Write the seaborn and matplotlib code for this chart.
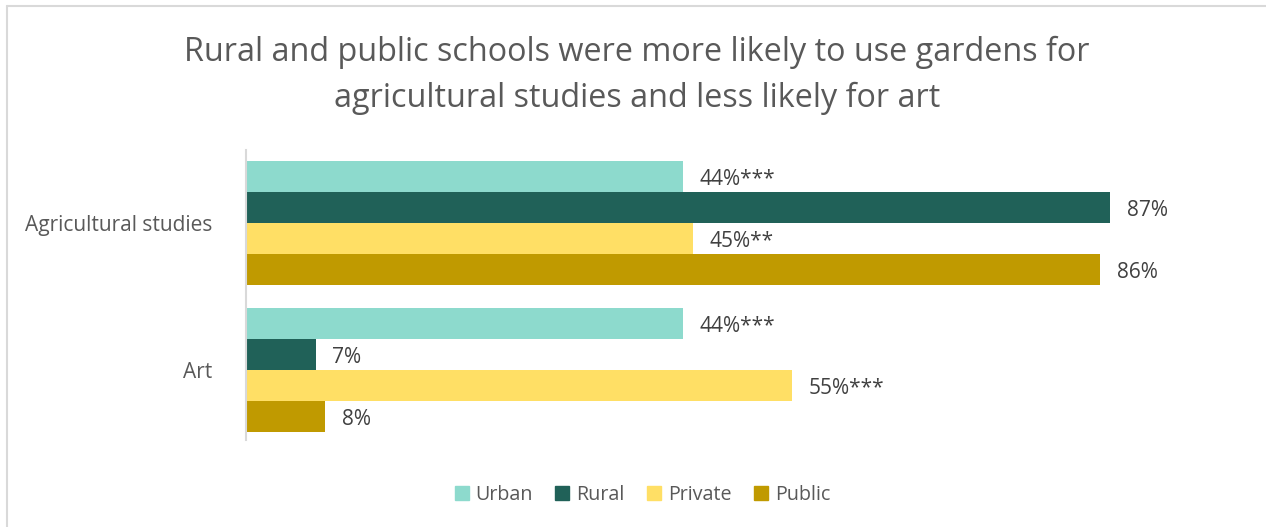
import matplotlib
matplotlib.use("Agg")
import matplotlib.pyplot as plt
import seaborn as sns
import pandas as pd
from matplotlib.lines import Line2D

categories = ["Agricultural studies", "Art"]
groups = ["Urban", "Rural", "Private", "Public"]
urban = [44, 44]
rural = [87, 7]
private = [45, 55]
public = [86, 8]
labels_urban = ["44%***", "44%***"]
labels_rural = ["87%", "7%"]
labels_private = ["45%**", "55%***"]
labels_public = ["86%", "8%"]

title = "Rural and public schools were more likely to use gardens for\nagricultural studies and less likely for art"
colors = ["#8DDACD", "#206158", "#FFDF65", "#C09A00"]

rows = []
vals = [urban, rural, private, public]
labs = [labels_urban, labels_rural, labels_private, labels_public]
for g, v, l in zip(groups, vals, labs):
    for c, x, t in zip(categories, v, l):
        rows.append({"Category": c, "Group": g, "Value": x, "Label": t})
df = pd.DataFrame(rows)

sns.set_theme(style="white")
plt.rcParams['font.family'] = ['Open Sans', 'DejaVu Sans']

fig = plt.figure(figsize=(12.66, 5.27), dpi=100)
ax = fig.add_axes([246/1266, 1-440/527, (1239-246)/1266, (440-150)/527])

sns.barplot(data=df, y="Category", x="Value", hue="Group", order=categories,
            hue_order=groups, palette=colors, orient="h", width=0.846,
            ax=ax, legend=False, saturation=1, linewidth=0)

ax.set_xlim(0, 100)
ax.set_ylim(1.48, -0.5)
ax.set_xticks([])
ax.set_xlabel("")
ax.set_ylabel("")
for s in ["top", "right", "bottom"]:
    ax.spines[s].set_visible(False)
ax.spines["left"].set_color("#D9D9D9")
ax.spines["left"].set_linewidth(1.5)
ax.tick_params(axis="y", length=0, pad=24, labelsize=15, labelcolor="#595959")

for cont, g in zip(ax.containers, groups):
    sub = df[df["Group"] == g].set_index("Category").loc[categories]
    texts = ax.bar_label(cont, labels=list(sub["Label"]), padding=12, fontsize=15, color="#404040")
    for t in texts:
        x0, y0 = t.xyann
        t.xyann = (x0, y0 - 2.25)

fig.text(637/1266, 1-75/527, title, ha="center", va="center", fontsize=23.3,
         color="#595959", linespacing=1.5)

handles = [Line2D([], [], marker="s", linestyle="", markersize=10.5,
                  markerfacecolor=c, markeredgecolor=c) for c in colors]
fig.legend(handles, groups, loc="center", bbox_to_anchor=(642/1266, 1-495/527),
           ncol=4, frameon=False, fontsize=14.2, handlelength=0.8,
           handletextpad=0.3, columnspacing=1.1, labelcolor="#595959")

# outer border
fig.add_artist(Line2D([7/1266, 7/1266], [0, 1-6/527], color="#D9D9D9", lw=1.5, transform=fig.transFigure))
fig.add_artist(Line2D([7/1266, 1], [1-6/527, 1-6/527], color="#D9D9D9", lw=1.5, transform=fig.transFigure))

fig.savefig("out.png", dpi=100, facecolor="white")
